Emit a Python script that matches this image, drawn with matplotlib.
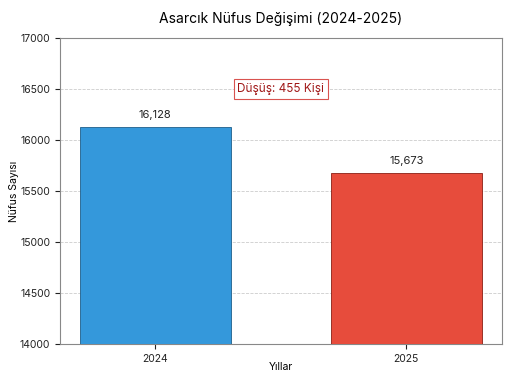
import matplotlib.pyplot as plt

plt.rcParams['font.family'] = ['Inter', 'DejaVu Sans']

years = ['2024', '2025']
population = [16128, 15673]
colors = ['#3498db', '#e74c3c']
drop = population[0] - population[1]

fig = plt.figure(figsize=(5.12, 3.84), dpi=100)
ax = fig.add_axes([0.117, 0.104, 0.863, 0.797])

bars = ax.bar(range(len(years)), population, width=0.6, color=colors,
              edgecolor=['#1f5f8b', '#8b1e14'], linewidth=0.6, zorder=3)

for i, v in enumerate(population):
    ax.annotate(f'{v:,}', (i, v), xytext=(0, 5), textcoords='offset points',
                ha='center', va='bottom', fontsize=8, color='#222222')

ax.text(0.5, 16500, f'Düşüş: {drop} Kişi', ha='center', va='center',
        fontsize=8.5, color='#a01818',
        bbox=dict(boxstyle='square,pad=0.3', facecolor='white', edgecolor='#d9534f', linewidth=0.8))

ax.set_ylim(14000, 17000)
ax.set_xticks(range(len(years)))
ax.set_xticklabels(years)
ax.tick_params(labelsize=7.5, colors='#222222')
for s in ax.spines.values():
    s.set_color('#888888')
    s.set_linewidth(0.8)
ax.grid(axis='y', linestyle='--', color='#cccccc', linewidth=0.6, zorder=0)
ax.set_axisbelow(True)

ax.set_title('Asarcık Nüfus Değişimi (2024-2025)', fontsize=10, pad=11)
ax.set_xlabel('Yıllar', fontsize=7.5)
ax.set_ylabel('Nüfus Sayısı', fontsize=7.5)
ax.yaxis.set_label_coords(-0.092, 0.5)
ax.xaxis.set_label_coords(0.5, -0.058)

fig.savefig('out.png', dpi=100)
